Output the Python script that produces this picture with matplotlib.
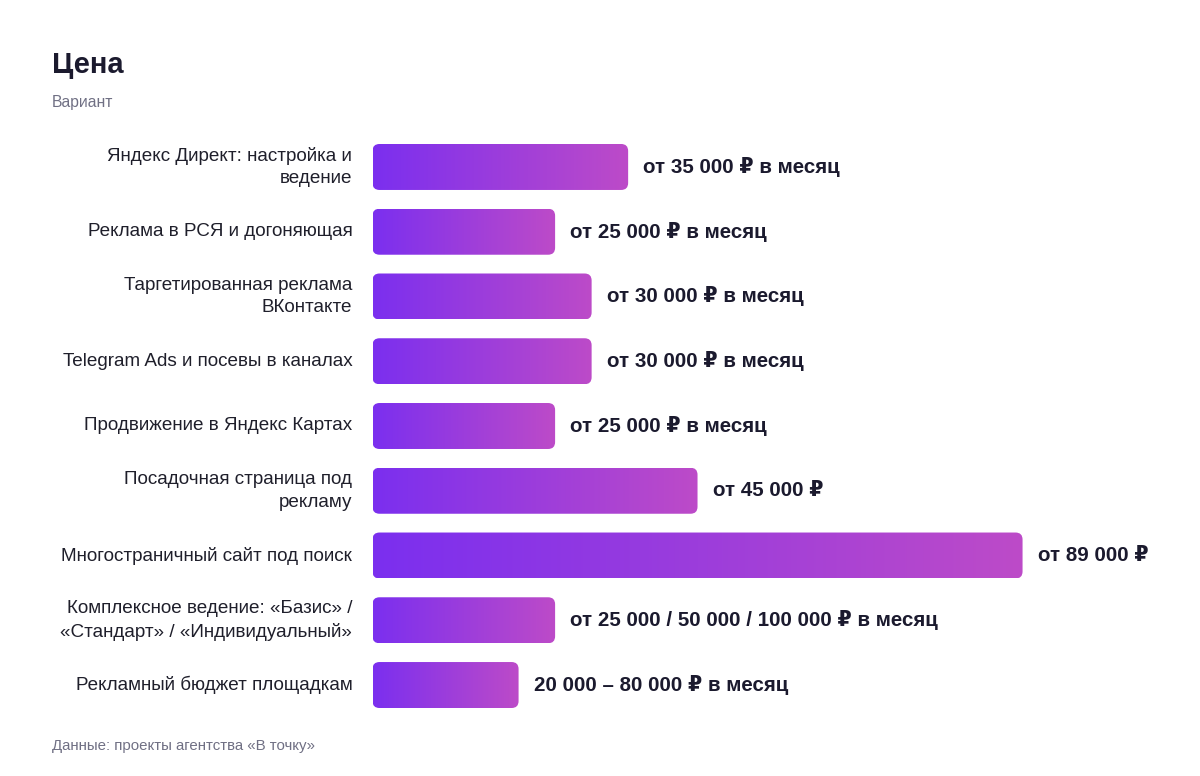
import matplotlib
matplotlib.use("Agg")
import matplotlib.pyplot as plt
import numpy as np
from matplotlib.patches import FancyBboxPatch
from matplotlib.colors import LinearSegmentedColormap

plt.rcParams['font.family'] = ['Liberation Sans', 'DejaVu Sans']

categories = [
    "Яндекс Директ: настройка и\nведение",
    "Реклама в РСЯ и догоняющая",
    "Таргетированная реклама\nВКонтакте",
    "Telegram Ads и посевы в каналах",
    "Продвижение в Яндекс Картах",
    "Посадочная страница под\nрекламу",
    "Многостраничный сайт под поиск",
    "Комплексное ведение: «Базис» /\n«Стандарт» / «Индивидуальный»",
    "Рекламный бюджет площадкам",
]
values = [35000, 25000, 30000, 30000, 25000, 44500, 89000, 25000, 20000]
value_labels = [
    "от 35 000 ₽ в месяц",
    "от 25 000 ₽ в месяц",
    "от 30 000 ₽ в месяц",
    "от 30 000 ₽ в месяц",
    "от 25 000 ₽ в месяц",
    "от 45 000 ₽",
    "от 89 000 ₽",
    "от 25 000 / 50 000 / 100 000 ₽ в месяц",
    "20 000 – 80 000 ₽ в месяц",
]
title = "Цена"
subtitle = "Вариант"
footer = "Данные: проекты агентства «В точку»"

W, H = 1200, 776
fig = plt.figure(figsize=(W / 100, H / 100), dpi=100)
ax_left, ax_right = 372.5, 1180
ax_top, ax_bot = 134.6, 717.4
ax = fig.add_axes([ax_left / W, 1 - ax_bot / H, (ax_right - ax_left) / W, (ax_bot - ax_top) / H])
px_per_unit = 7.304 / 1000
xmax = (ax_right - ax_left) / px_per_unit
n = len(categories)
ax.set_xlim(0, xmax)
ax.set_ylim(n - 0.5, -0.5)
ax.axis('off')

cmap = LinearSegmentedColormap.from_list("g", ["#7B2FEF", "#BD4BC8"])
grad = np.linspace(0, 1, 256).reshape(1, -1)
bar_h = 0.71
row_px = (ax_bot - ax_top) / n
x_units_per_px = 1 / px_per_unit
y_units_per_px = 1 / row_px
aspect = y_units_per_px / x_units_per_px
radius = 7 * x_units_per_px

for i, (v, lab) in enumerate(zip(values, value_labels)):
    y0 = i - bar_h / 2
    patch = FancyBboxPatch((0, y0), v, bar_h,
                           boxstyle=f"round,pad=0,rounding_size={radius}",
                           mutation_aspect=aspect,
                           facecolor='none', edgecolor='none')
    ax.add_patch(patch)
    im = ax.imshow(grad, cmap=cmap, extent=(0, v, i + bar_h / 2, y0),
                   aspect='auto', interpolation='bilinear', zorder=2)
    im.set_clip_path(patch)
    ax.annotate(lab, xy=(v, i), xytext=(10.8, 0), textcoords='offset points',
                ha='left', va='center', fontsize=14.8, fontweight='bold',
                color='#1b1a2e', annotation_clip=False)
    ax.annotate(categories[i], xy=(0, i), xytext=(-14.5, 0), textcoords='offset points',
                ha='right', va='center', fontsize=13.6, color='#1f1f2b',
                linespacing=1.45, annotation_clip=False)

fig.text(52 / W, 1 - 65 / H, title, fontsize=21, fontweight='bold', color='#1b1a2e',
         ha='left', va='center')
fig.text(52 / W, 1 - 102 / H, subtitle, fontsize=11.3, color='#707084',
         ha='left', va='center')
fig.text(52 / W, 1 - 746 / H, footer, fontsize=10.8, color='#707084',
         ha='left', va='center')

fig.savefig("out.png", dpi=100, facecolor='white')
